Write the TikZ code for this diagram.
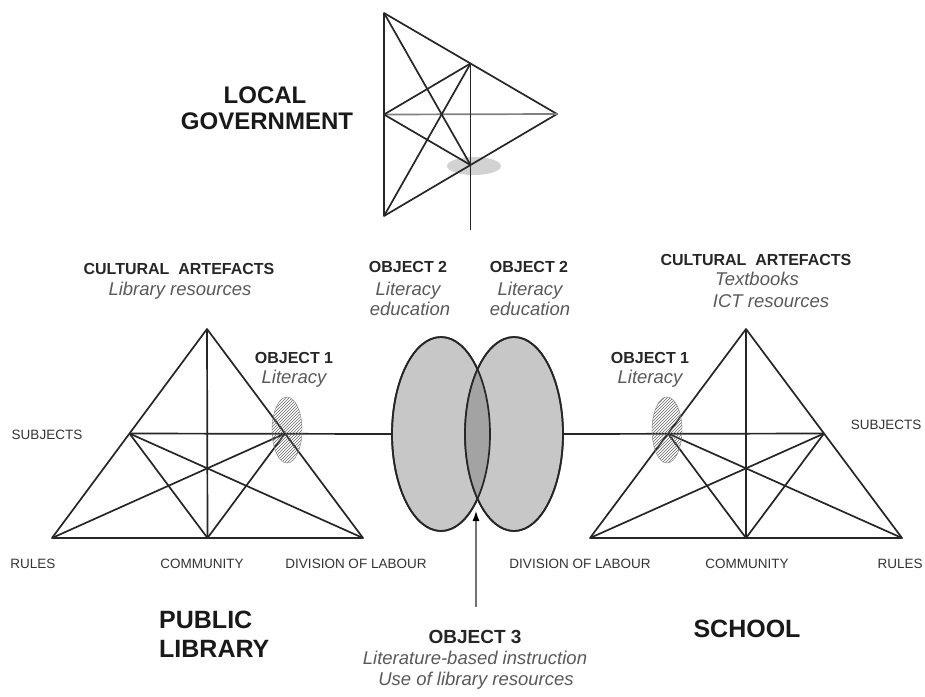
\documentclass[tikz,border=0pt]{standalone}
\usepackage{fontspec}
\setmainfont{Liberation Sans}
\usetikzlibrary{positioning,calc,arrows.meta,patterns,shapes.geometric}
\definecolor{obj}{rgb}{0.78,0.78,0.78}
\definecolor{lens}{rgb}{0.64,0.64,0.64}
\tikzset{
  tri/.style={line width=1.7pt,black!85,line join=round},
  lbl/.style={anchor=base,inner sep=0,text=black!80,font=\fontsize{13.5}{15}\selectfont},
  head/.style={anchor=base,inner sep=0,text=black!85,font=\fontsize{16}{18}\selectfont\bfseries},
  ital/.style={anchor=base,inner sep=0,text=black!65,font=\fontsize{18.5}{20}\selectfont\itshape},
  big/.style={anchor=base,inner sep=0,text=black!90,font=\fontsize{24}{26}\selectfont\bfseries},
  hatch/.style={pattern=north east lines,pattern color=black!60,draw=gray,thin},
}
\begin{document}
\begin{tikzpicture}[x=1pt,y=-1pt]
\useasboundingbox (0,0) rectangle (925,696);
% local government
\coordinate (gt) at (384,13);  \coordinate (gb) at (384,216);  \coordinate (gr) at (557,114);
\coordinate (gm) at ($(gt)!.5!(gb)$);
\coordinate (gu) at ($(gt)!.5!(gr)$);
\coordinate (gl) at ($(gb)!.5!(gr)$);
\coordinate (gend) at (470.5,230);
\fill [gray!35] (474,166) ellipse [x radius=27pt,y radius=9pt];
\draw [tri] (gt) -- (gb) -- (gr) -- cycle;
\draw [tri,gray] (gm) -- (gr);
\draw [tri] (gm) -- (gu);  \draw [tri] (gm) -- (gl);
\draw [tri] (gt) -- (gl);  \draw [tri] (gb) -- (gu);
\draw [tri] (gu) -- (gend);
\node [big] (gov1) at (265,103) {LOCAL};
\node [big] (gov2) at (267,129) {GOVERNMENT};
% public library
\coordinate (la) at (207,329);  \coordinate (lr) at (52,538);  \coordinate (ld) at (363,538);
\coordinate (lc) at ($(lr)!.5!(ld)$);
\coordinate (ls) at ($(la)!.5!(lr)$);
\coordinate (lo) at ($(la)!.5!(ld)$);
% objects 2 and 3
\node [ellipse,draw,tri,fill=obj,minimum width=98pt,minimum height=194pt,inner sep=0] (e1) at (441,434) {};
\node [ellipse,draw,tri,fill=obj,minimum width=98pt,minimum height=194pt,inner sep=0] (e2) at (514,434) {};
\begin{scope}
\clip (441,434) ellipse [x radius=49pt,y radius=97pt];
\fill [lens] (514,434) ellipse [x radius=49pt,y radius=97pt];
\end{scope}
\draw [tri] (441,434) ellipse [x radius=49pt,y radius=97pt];
\draw [tri] (514,434) ellipse [x radius=49pt,y radius=97pt];
\draw [tri] (la) -- (lr) -- (ld) -- cycle;
\draw [tri] (la) -- (lc);
\draw [tri] (ls) -- (e1.west);
\draw [tri] (ls) -- (lc);  \draw [tri] (ls) -- (ld);
\draw [tri] (lo) -- (lc);  \draw [tri] (lo) -- (lr);
\draw [hatch] (287,430) ellipse [x radius=15pt,y radius=33pt];
% school
\coordinate (ra) at (746,329);  \coordinate (rd) at (590,538);  \coordinate (rr) at (902,538);
\coordinate (rc) at ($(rd)!.5!(rr)$);
\coordinate (ro) at ($(ra)!.5!(rd)$);
\coordinate (rs) at ($(ra)!.5!(rr)$);
\draw [tri] (ra) -- (rd) -- (rr) -- cycle;
\draw [tri] (ra) -- (rc);
\draw [tri] (e2.east) -- (rs);
\draw [tri] (ro) -- (rc);  \draw [tri] (ro) -- (rr);
\draw [tri] (rs) -- (rc);  \draw [tri] (rs) -- (rd);
\draw [hatch] (667,430) ellipse [x radius=15pt,y radius=33pt];
% arrow to object 3
\coordinate (a3) at (476,607);  \coordinate (a3t) at (476,511);
\draw [black!55,line width=1.2pt,-{Latex[length=10pt,width=7pt,black]}] (a3) -- (a3t);
% labels
\node [head] (lart) at (179,274) {CULTURAL\ \ ARTEFACTS};
\node [ital] (lres) at (180,295) {Library resources};
\node [head] (lob1) at (294,363) {OBJECT 1};
\node [ital] (llit) at (294,383) {Literacy};
\node [lbl] (lsub) at (47,439) {SUBJECTS};
\node [lbl] (lrul) at (33,568) {RULES};
\node [lbl] (lcom) at (202,568) {COMMUNITY};
\node [lbl] (ldiv) at (356,568) {DIVISION OF LABOUR};
\node [head] (lob2) at (408,272) {OBJECT 2};
\node [ital] (lob2a) at (408,295) {Literacy};
\node [ital] (lob2b) at (410,315) {education};
\node [head] (rob2) at (529,272) {OBJECT 2};
\node [ital] (rob2a) at (530,295) {Literacy};
\node [ital] (rob2b) at (530,315) {education};
\node [head] (rart) at (756,265) {CULTURAL\ \ ARTEFACTS};
\node [ital] (rres1) at (757,285) {Textbooks};
\node [ital] (rres2) at (771,307) {ICT resources};
\node [head] (rob1) at (650,363) {OBJECT 1};
\node [ital] (rlit) at (650,383) {Literacy};
\node [lbl] (rsub) at (886,429) {SUBJECTS};
\node [lbl] (rdiv) at (580,568) {DIVISION OF LABOUR};
\node [lbl] (rcom) at (747,568) {COMMUNITY};
\node [lbl] (rrul) at (900,568) {RULES};
\node [big,anchor=base west,font=\fontsize{25}{27}\selectfont\bfseries] (pub1) at (159,628) {PUBLIC};
\node [big,anchor=base west,font=\fontsize{25}{27}\selectfont\bfseries] (pub2) at (159,657) {LIBRARY};
\node [big,font=\fontsize{25}{27}\selectfont\bfseries] (sch) at (747,637) {SCHOOL};
\node [head,font=\fontsize{19}{21}\selectfont\bfseries] (ob3) at (475,643) {OBJECT 3};
\node [ital] (ob3a) at (475,664) {Literature-based instruction};
\node [ital] (ob3b) at (476,685) {Use of library resources};
\end{tikzpicture}
\end{document}
